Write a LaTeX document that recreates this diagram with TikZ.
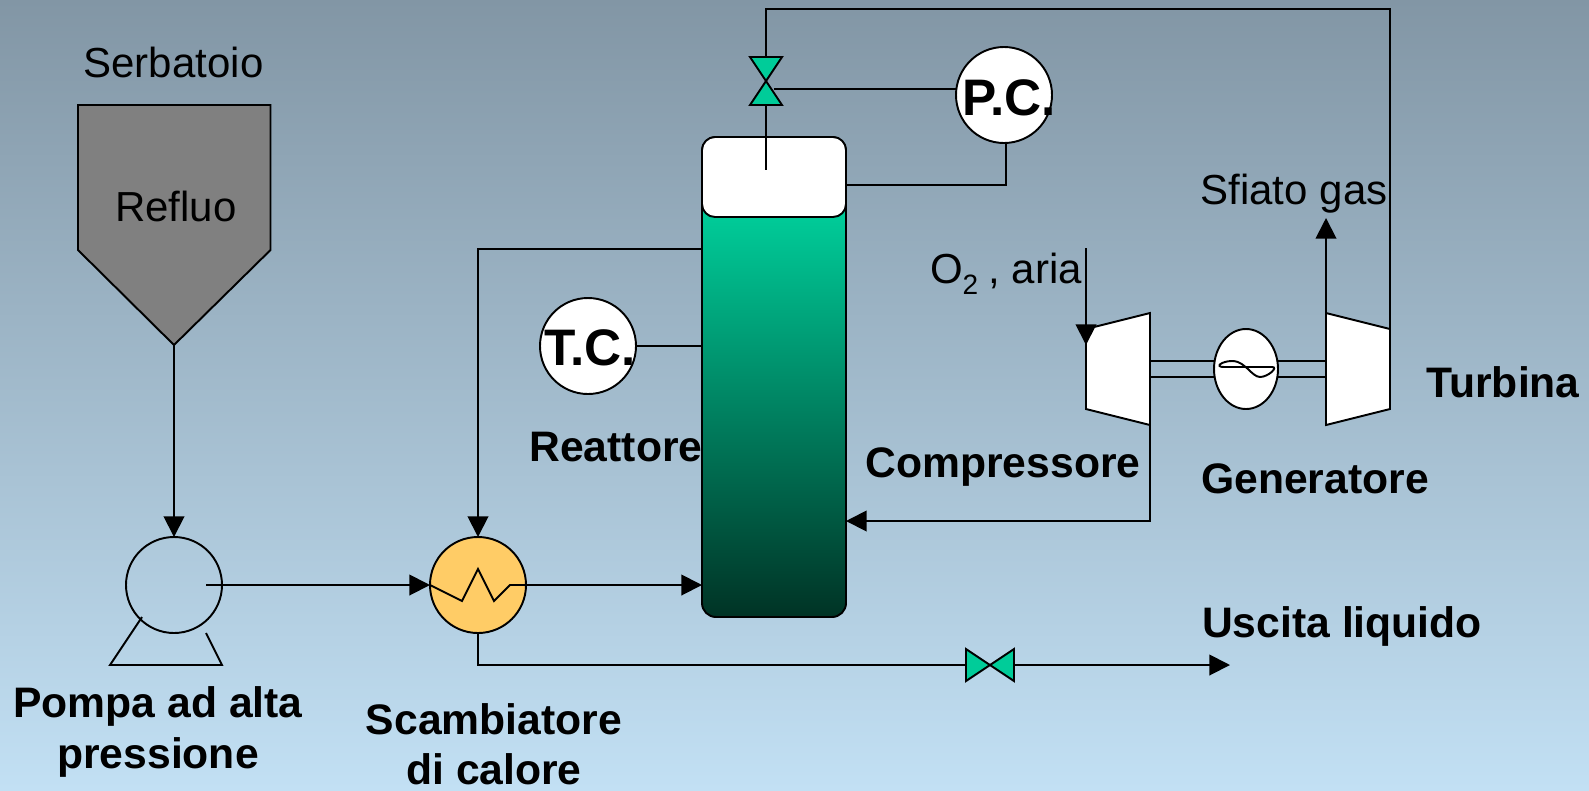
\documentclass[tikz,border=0pt]{standalone}
\usepackage{fontspec}
\setmainfont{Liberation Sans}
\usetikzlibrary{arrows.meta,shapes.geometric,calc}
\definecolor{bgtop}{HTML}{8296A5}
\definecolor{bgbot}{HTML}{C2E0F4}
\definecolor{teal}{HTML}{00CC99}
\definecolor{darkteal}{HTML}{003325}
\definecolor{xorange}{HTML}{FFCC66}
\pgfdeclareverticalshading{reactorshade}{100bp}{color(0bp)=(darkteal);color(25bp)=(darkteal);color(67bp)=(teal);color(100bp)=(teal)}
\tikzset{
  x=0.75pt,y=-0.75pt,
  every path/.style={line width=1.45pt,line join=miter},
  arrowed/.style={-{Triangle[length=15.5pt,width=15.5pt]}},
  circ/.style={circle,draw,inner sep=0pt,minimum size=72pt,outer sep=0pt},
  reg/.style={font=\fontsize{31.5}{38}\selectfont,inner sep=0pt},
  lab/.style={font=\fontsize{32}{39}\bfseries\selectfont,inner sep=0pt,align=center},
  ctl/.style={font=\fontsize{38.5}{44}\bfseries\selectfont,inner sep=0pt},
  valve/.style={draw=black,fill=teal},
}
\begin{document}
\begin{tikzpicture}
\useasboundingbox (0,0) rectangle (1589,790);
\shade[top color=bgtop,bottom color=bgbot,draw=none] (0,0) rectangle (1589,790);

% hopper
\draw[fill=gray] (78,105) -- (270.5,105) -- (270.5,250) -- (174,345) -- (78,250) -- cycle;
\coordinate (hopperout) at (174,345);

% pump
\node[circ] (pump) at (174,585) {};
\coordinate (pumpout) at (206,585);
\coordinate (footA) at (142,617);
\coordinate (footB) at (110,665);
\coordinate (footC) at (222,665);
\coordinate (footD) at (206,633);
\draw (footA) -- (footB) -- (footC) -- (footD);

% exchanger
\node[circ,fill=xorange] (hx) at (478,585) {};
\coordinate (zA) at (510,585);
\coordinate (zB) at (542,585);
\draw (hx.west) -- (462,601) -- (478,569) -- (494,601) -- (zA) -- (zB);

% reactor
\node[draw,rounded corners=10.5pt,minimum width=108pt,minimum height=360pt,inner sep=0pt,outer sep=0pt,
  shading=reactorshade] (reactor) at (774,377) {};
\node[draw,fill=white,rounded corners=9.75pt,minimum width=108pt,minimum height=60pt,inner sep=0pt,outer sep=0pt] (head) at (774,177) {};

% top valve
\coordinate (vt) at (766,81);
\draw[valve] (750,57) -- (782,57) -- (vt) -- cycle;
\draw[valve] (750,105) -- (782,105) -- (vt) -- cycle;
\coordinate (vtT) at (766,57);
\coordinate (vtB) at (766,105);
\coordinate (vtS) at (774,89);
\coordinate (dip) at (766,170);

% bottom valve
\coordinate (vb) at (990,665);
\draw[valve] (966,649) -- (966,681) -- (vb) -- cycle;
\draw[valve] (1014,649) -- (1014,681) -- (vb) -- cycle;
\coordinate (vbL) at (966,665);
\coordinate (vbR) at (1014,665);
\coordinate (liqout) at (1230,665);

% controllers
\node[circ,fill=white] (pc) at (1004,95) {};
\node[circ,fill=white] (tc) at (588,346) {};
\node[ctl] at (1009,98) {P.C.};
\node[ctl] at (590,348) {T.C.};

% shaft and generator
\coordinate (cTop) at (1150,361);
\coordinate (cBot) at (1150,377);
\coordinate (tTop) at (1326,361);
\coordinate (tBot) at (1326,377);
\draw (cTop) -- (tTop);
\draw (cBot) -- (tBot);
\node[ellipse,draw,fill=white,minimum width=48pt,minimum height=60pt,inner sep=0pt,outer sep=0pt] (gen) at (1246,369) {};
\draw (1272,367) -- (1224,367) .. controls (1214,367) and (1222,361) .. (1232,361)
  .. controls (1240,361) and (1244,366) .. (1248,369)
  .. controls (1252,373) and (1256,377) .. (1260,377)
  .. controls (1268,377) and (1279,367) .. (1272,367) -- cycle;

% compressor and turbine
\draw[fill=white] (1086,329) -- (1150,313) -- (1150,425) -- (1086,409) -- cycle;
\draw[fill=white] (1326,313) -- (1390,329) -- (1390,409) -- (1326,425) -- cycle;
\coordinate (cOut) at (1150,425);
\coordinate (cIn) at (1086,345);
\coordinate (tOutTop) at (1326,313);
\coordinate (tInTop) at (1390,329);

% free ends and corners
\coordinate (o2) at (1086,248);
\coordinate (vent) at (1326,218);
\coordinate (loopA) at (766,9);
\coordinate (loopB) at (1390,9);
\coordinate (rFeed) at (702,585);
\coordinate (rOff) at (702,249);
\coordinate (rTC) at (702,346);
\coordinate (rAir) at (846,521);
\coordinate (headR) at (846,185);
\coordinate (hxB) at (478,665);

% connectors
\draw[arrowed] (hopperout) -- (pump.north);
\draw[arrowed] (pumpout) -- (hx.west);
\draw[arrowed] (zA) -- (rFeed);
\draw[arrowed] (rOff) -- (rOff -| hx.north) -- (hx.north);
\draw (hx.south) -- (hxB) -- (vbL);
\draw[arrowed] (vbR) -- (liqout);
\draw (tc.east) -- (rTC);
\draw (vtB) -- (dip);
\draw (vtT) -- (loopA) -- (loopB) -- (tInTop);
\draw (vtS) -- (vtS -| pc.west);
\draw (headR) -- (1006,185) -- (1006,144);
\draw[arrowed] (cOut) -- (cOut |- rAir) -- (rAir);
\draw[arrowed] (o2) -- (cIn);
\draw[arrowed] (tOutTop) -- (vent);

% labels
\node[reg] at (173.5,62) {Serbatoio};
\node[reg] at (176,206) {Refluo};
\node[reg] at (1294,194) {Sfiato gas};
\node[reg] at (1006,274) {O{\raisebox{-8pt}{\fontsize{21}{21}\selectfont 2}}\kern-1pt{} , aria};
\node[lab] at (158,731.5) {Pompa ad alta\\[-0.7pt]pressione};
\node[lab] at (494,744) {Scambiatore\\[-1.5pt]di calore};
\node[lab] at (616,447) {Reattore};
\node[lab] at (1003,467) {Compressore};
\node[lab] at (1315,479) {Generatore};
\node[lab] at (1503,382) {Turbina};
\node[lab] at (1342,626) {Uscita liquido};
\end{tikzpicture}
\end{document}
